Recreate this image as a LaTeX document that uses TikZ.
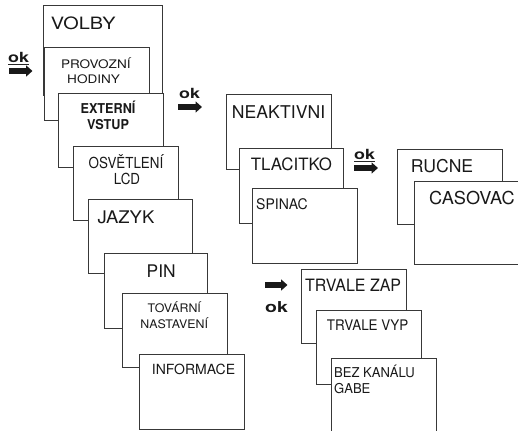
\documentclass[tikz,border=0pt]{standalone}
\usepackage{fontspec}
\usepackage{graphicx}
\setmainfont{TeX Gyre Heros}
\usetikzlibrary{arrows.meta}
% size, horizontal stretch, text
\newcommand\txt[3]{\scalebox{#2}[1]{\fontsize{#1}{#1}\selectfont #3}}
\tikzset{
  box/.style={draw=black!78, fill=white, line width=0.85pt, anchor=north west, inner sep=0pt},
  lbl/.style={inner sep=0pt, anchor=base west, text=black!90},
  clbl/.style={inner sep=0pt, anchor=base, text=black!90},
  okarrow/.style={draw=black!90, line width=5.4pt, -{Triangle[length=6.5pt,width=11pt]}},
  oktext/.style={inner sep=0pt, anchor=base west, text=black!90, font=\bfseries},
}
\begin{document}
\begin{tikzpicture}[x=1pt,y=-1pt]
\useasboundingbox (0,0) rectangle (518,430);

% main menu column
\node[box, minimum width=119pt, minimum height=90pt] (volby) at (43,5) {};
\node[lbl] (tvolby) at (50.7,29.3) {\txt{17}{1.17}{VOLBY}};
\node[box, minimum width=104.7pt, minimum height=73pt] (provoz) at (44.3,47) {};
\node[clbl] (tprov1) at (95.8,68.3) {\txt{11.8}{1.15}{PROVOZNÍ}};
\node[clbl] (tprov2) at (93.6,83.5) {\txt{11.8}{1.15}{HODINY}};
\node[box, minimum width=105pt, minimum height=74pt] (extern) at (58,93) {};
\node[clbl] (text1) at (108,114) {\txt{13.6}{0.93}{\bfseries EXTERNÍ}};
\node[clbl] (text2) at (108,130) {\txt{13.6}{0.93}{\bfseries VSTUP}};
\node[box, minimum width=105.3pt, minimum height=74pt] (osvet) at (73,146) {};
\node[clbl] (tosv1) at (126,168.3) {\txt{15.2}{0.88}{OSVĚTLENÍ}};
\node[clbl] (tosv2) at (127,184) {\txt{15.2}{0.88}{LCD}};
\node[box, minimum width=103.7pt, minimum height=74pt] (jazyk) at (88,199) {};
\node[lbl] (tjazyk) at (97.3,223.3) {\txt{17.4}{1.06}{JAZYK}};
\node[box, minimum width=103pt, minimum height=75pt] (pin) at (104,253) {};
\node[clbl] (tpin) at (161.2,277.3) {\txt{17.4}{1.0}{PIN}};
\node[box, minimum width=105pt, minimum height=74pt] (tovar) at (122,293) {};
\node[clbl] (ttov1) at (174.3,312.3) {\txt{11.8}{1.05}{TOVÁRNÍ}};
\node[clbl] (ttov2) at (174.3,328.3) {\txt{11.8}{1.05}{NASTAVENÍ}};
\node[box, minimum width=105pt, minimum height=75pt] (inform) at (139,354) {};
\node[lbl] (tinform) at (151.7,374) {\txt{14}{1.0}{INFORMACE}};

% external input submenu
\node[box, minimum width=105pt, minimum height=74.7pt] (neakt) at (225.7,94.3) {};
\node[lbl] (tneakt) at (231.7,118.3) {\txt{17.6}{1.0}{NEAKTIVNI}};
\node[box, minimum width=104.3pt, minimum height=74.4pt] (tlac) at (239,148.3) {};
\node[lbl] (ttlac) at (250.7,171) {\txt{17}{0.99}{TLACITKO}};
\node[box, minimum width=105pt, minimum height=75pt] (spin) at (252.3,188.3) {};
\node[lbl] (tspin) at (256,209.3) {\txt{14.6}{0.96}{SPINAC}};

% push button submenu
\node[box, minimum width=105pt, minimum height=74.7pt] (rucne) at (396.7,149.3) {};
\node[lbl] (trucne) at (410.7,172.7) {\txt{17.6}{1.0}{RUCNE}};
\node[box, minimum width=125pt, minimum height=83.3pt] (casov) at (414.3,180.7) {};
\node[lbl] (tcasov) at (429,204.3) {\txt{17.8}{1.02}{CASOVAC}};

% switch submenu
\node[box, minimum width=105pt, minimum height=74.3pt] (tzap) at (301,269) {};
\node[lbl] (ttzap) at (305,291) {\txt{17}{0.94}{TRVALE ZAP}};
\node[box, minimum width=105.3pt, minimum height=74.3pt] (tvyp) at (316,310) {};
\node[lbl] (ttvyp) at (326.7,330) {\txt{14.6}{0.92}{TRVALE VYP}};
\node[box, minimum width=104.5pt, minimum height=90pt] (bez) at (331,357.5) {};
\node[lbl] (tbez1) at (334,377.7) {\txt{13.6}{0.96}{BEZ KANÁLU}};
\node[lbl] (tbez2) at (334,393.3) {\txt{13.6}{0.96}{GABE}};

% "ok" key marks
\coordinate (a1s) at (9,71);   \coordinate (a1e) at (32.5,71);
\coordinate (a2s) at (178,107); \coordinate (a2e) at (202,107);
\coordinate (a3s) at (354,168); \coordinate (a3e) at (378,168);
\coordinate (a4s) at (265,285); \coordinate (a4e) at (287.5,285);
\draw[okarrow] (a1s) -- (a1e);
\draw[okarrow] (a2s) -- (a2e);
\draw[okarrow] (a3s) -- (a3e);
\draw[okarrow] (a4s) -- (a4e);
\node[oktext] (ok1) at (8,63) {\txt{14}{1.28}{\bfseries ok}};
\draw[line width=1pt, black!85] ([yshift=-1.6pt]ok1.base west) -- ([yshift=-1.6pt]ok1.base east);
\node[oktext] (ok2) at (179,99) {\txt{14}{1.28}{\bfseries ok}};
\node[oktext] (ok3) at (354,160) {\txt{14}{1.28}{\bfseries ok}};
\draw[line width=1pt, black!85] ([yshift=-1.6pt]ok3.base west) -- ([yshift=-1.6pt]ok3.base east);
\node[oktext] (ok4) at (265,312) {\txt{15}{1.3}{\bfseries ok}};
\end{tikzpicture}
\end{document}
